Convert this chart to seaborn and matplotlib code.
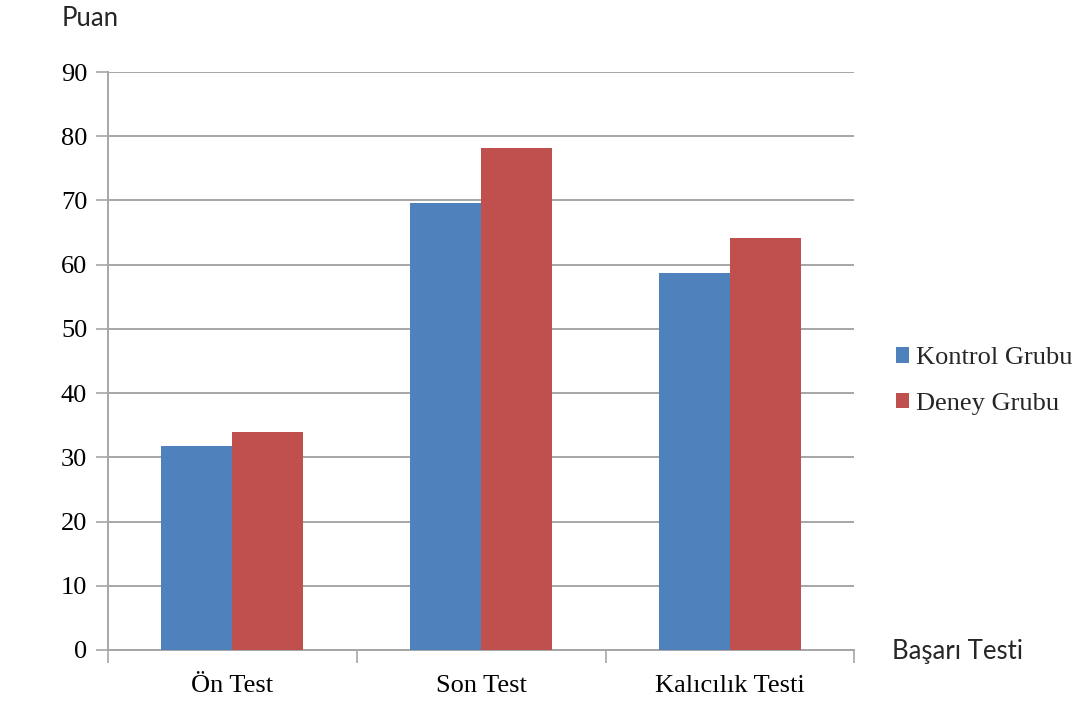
import matplotlib
matplotlib.use("Agg")
import matplotlib.pyplot as plt
import seaborn as sns
import pandas as pd

# Test stages and group means
categories = ["Ön Test", "Son Test", "Kalıcılık Testi"]
kontrol = [31.8, 69.6, 58.7]
deney = [33.9, 78.2, 64.2]
groups = ["Kontrol Grubu", "Deney Grubu"]
y_ticks = [0, 10, 20, 30, 40, 50, 60, 70, 80, 90]

df = pd.DataFrame({
    "Test": categories * 2,
    "Grup": [groups[0]] * 3 + [groups[1]] * 3,
    "Puan": kontrol + deney,
})

sns.set_theme(style="white")
serif = ["Liberation Serif", "DejaVu Serif"]
sans = ["Lato", "Open Sans", "DejaVu Sans"]

fig = plt.figure(figsize=(10.84, 7.02), dpi=100)
ax = fig.add_axes([0.0996, 0.0741, 0.6886, 0.8233])

palette = {groups[0]: "#4F81BD", groups[1]: "#C0504D"}
sns.barplot(data=df, x="Test", y="Puan", hue="Grup", order=categories,
            hue_order=groups, palette=palette, width=0.57, saturation=1,
            edgecolor="none", linewidth=0, ax=ax, zorder=3)

grid_c = "#a6a6a6"
ax.set_ylim(0, 90)
ax.set_xlim(-0.5, 2.5)
ax.set_yticks(y_ticks)
ax.set_yticklabels([str(v) for v in y_ticks], fontfamily=serif, fontsize=19)
ax.yaxis.grid(True, color=grid_c, linewidth=1.4, zorder=0)
ax.set_axisbelow(True)
ax.tick_params(axis="y", length=9, width=1.2, color=grid_c, pad=6, labelcolor="black", left=True)

ax.set_xticks([0, 1, 2])
ax.set_xticklabels(categories, fontfamily=serif, fontsize=19)
ax.set_xticks([-0.5, 0.5, 1.5, 2.5], minor=True)
ax.tick_params(axis="x", which="major", length=0, pad=18, labelcolor="black")
ax.tick_params(axis="x", which="minor", length=9, width=1.2, color=grid_c, bottom=True)

for s in ["top", "right"]:
    ax.spines[s].set_visible(False)
for s in ["left", "bottom"]:
    ax.spines[s].set_color(grid_c)
    ax.spines[s].set_linewidth(1.4)

ax.set_xlabel("")
ax.set_ylabel("")

handles, labels = ax.get_legend_handles_labels()
ax.legend(handles, labels, loc="center left", bbox_to_anchor=(1.024, 0.465),
          frameon=False, prop={"family": serif, "size": 19},
          handlelength=0.5, handleheight=0.5, handletextpad=0.25,
          labelspacing=0.9)

fig.text(62 / 1084, 1 - 18 / 702, "Puan", fontfamily=sans, fontsize=18.5,
         ha="left", va="center")
fig.text(892 / 1084, 1 - 651 / 702, "Başarı Testi", fontfamily=sans, fontsize=18.5,
         ha="left", va="center")

fig.savefig("out.png", dpi=100, facecolor="white")
